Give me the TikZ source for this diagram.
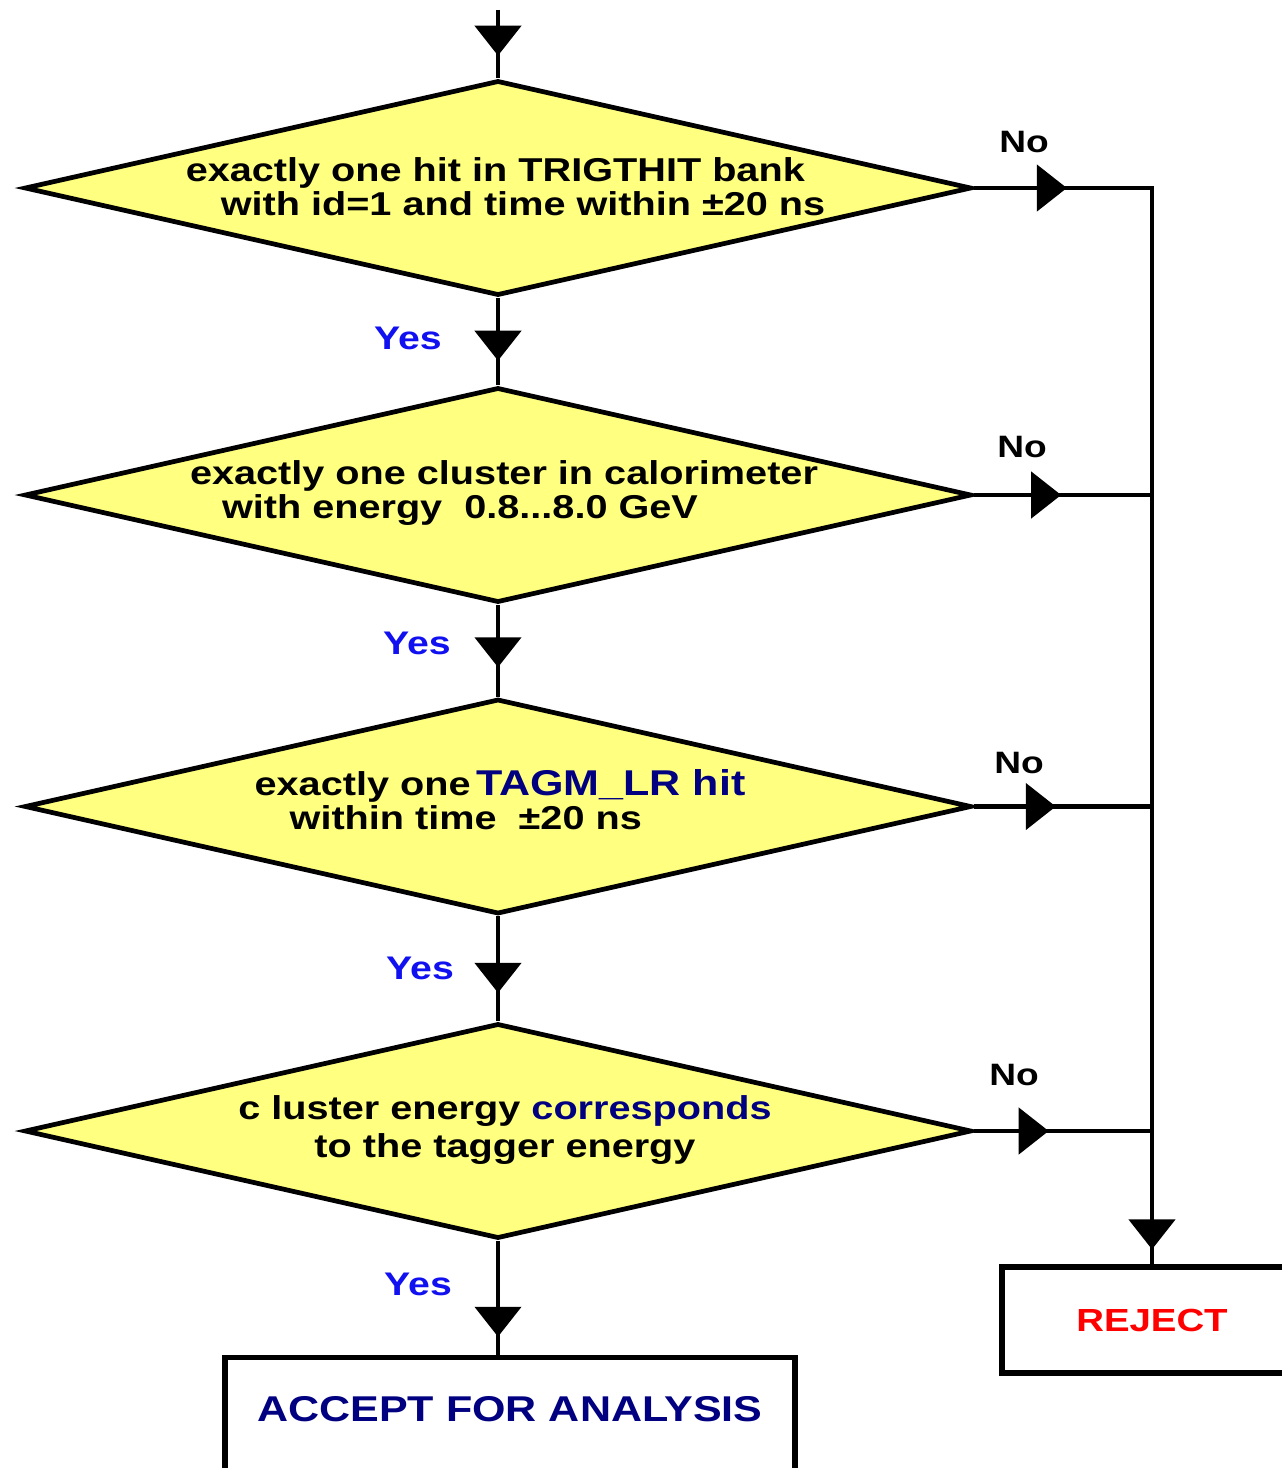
\documentclass[tikz,border=0pt]{standalone}
\usepackage{fontspec}
\setmainfont{Liberation Sans}[FakeStretch=1.2]
\usetikzlibrary{positioning,shapes.geometric,arrows.meta,decorations.markings,calc}
\definecolor{pale}   {HTML}{FFFF80}
\definecolor{navy}   {HTML}{000080}
\definecolor{yesblue}{HTML}{1010F0}
\definecolor{rejred} {HTML}{FF0000}
\tikzset{
  flowtip/.tip = {Triangle[length=0.30cm, width=0.46cm]},
  every node/.style={font=\bfseries},
  % --- nodes
  dia/.style    = {diamond, draw=black, fill=pale, line width=1.35pt, inner sep=0pt,
                   minimum width=9.47cm, minimum height=2.15cm, shape aspect=4.4},
  dtext/.style  = {font=\bfseries\fontsize{9.4}{#1}\selectfont, align=left, inner sep=0pt},
  yes/.style    = {font=\bfseries\fontsize{9.3}{10}\selectfont, text=yesblue, inner sep=0pt},
  no/.style     = {font=\bfseries\fontsize{8.8}{10}\selectfont, inner sep=0pt},
  outbox/.style = {rectangle, draw=black, line width=1.5pt, fill=white},
  % --- edges
  flow/.style   = {line width=1.35pt, postaction={decorate,
                   decoration={markings, mark=at position #1 with {\arrow{flowtip}}}}},
}

\begin{document}
\begin{tikzpicture}
  \useasboundingbox (0,0) rectangle (12.82,-14.68);
  \clip (0,0) rectangle (12.82,-14.68);

  % ------------------------------------------------------------------ decisions
  \node[dia] (d1) at (4.98,-1.88) {};
  \node[dtext=0.28cm] (t1) at (5.055,-1.87)
    {exactly one hit in TRIGTHIT bank\\\hspace*{0.35cm}with id=1 and time within ±20 ns};

  \node[dia] (d2) at (4.98,-4.95) {};
  \node[dtext=0.34cm] (t2) at (5.04,-4.93)
    {exactly one cluster in calorimeter\\\hspace*{0.32cm}with energy\ \ 0.8...8.0 GeV};

  \node[dia] (d3) at (4.98,-8.065) {};
  \node[dtext=0.34cm] (t3) at (5.00,-8.00)
    {exactly one\,{\fontsize{10.2}{9.7}\selectfont\color{navy}TAGM\_LR hit}\\
     \hspace*{0.35cm}within time\ \ ±20 ns};

  \node[dia] (d4) at (4.98,-11.31) {};
  \node[dtext=0.38cm, align=center] (t4) at (5.05,-11.30)
    {c luster energy {\color{navy}corresponds}\\to the tagger energy};

  % ------------------------------------------------------------------ outcomes
  \node[outbox, minimum width=5.70cm, text height=0.25cm, text depth=0.6cm,
        inner ysep=0.39cm, anchor=north, text=navy,
        font=\bfseries\fontsize{10.2}{12}\selectfont] (accept) at (5.10,-13.55)
    {ACCEPT FOR ANALYSIS};
  \node[outbox, minimum width=3.0cm, minimum height=1.06cm, text=rejred,
        font=\bfseries\fontsize{9.1}{11}\selectfont] (reject) at (11.52,-13.20)
    {REJECT};

  % ------------------------------------------------------------------ yes path
  \coordinate (entry) at (4.98,-0.10);
  \draw[flow=0.67] (entry) -- (d1.north);
  \draw[flow=0.72] (d1.south) -- (d2.north);
  \draw[flow=0.68] (d2.south) -- (d3.north);
  \draw[flow=0.73] (d3.south) -- (d4.north);
  \draw[flow=0.84] (d4.south) -- (d4.south |- accept.north);

  % ------------------------------------------------------------------ no path
  \coordinate (corner) at (d1.east -| reject.north);
  \draw[line width=1.35pt, postaction={decorate, decoration={markings,
          mark=at position 0.93cm with {\arrow{flowtip}},
          mark=at position -0.15cm with {\arrow{flowtip}}}}]
    (d1.east) -- (corner) -- (reject.north);
  \draw[flow=0.49] (d2.east) -- (d2.east -| corner);
  \draw[flow=0.46] (d3.east) -- (d3.east -| corner);
  \draw[flow=0.42] (d4.east) -- (d4.east -| corner);

  % ------------------------------------------------------------------ labels
  \node[yes] (yes1) at (4.08,-3.38)  {Yes};
  \node[yes] (yes2) at (4.17,-6.43)  {Yes};
  \node[yes] (yes3) at (4.20,-9.68)  {Yes};
  \node[yes] (yes4) at (4.18,-12.84) {Yes};
  \node[no]  (no1)  at (10.24,-1.42) {No};
  \node[no]  (no2)  at (10.22,-4.47) {No};
  \node[no]  (no3)  at (10.19,-7.63) {No};
  \node[no]  (no4)  at (10.14,-10.75) {No};
\end{tikzpicture}
\end{document}
